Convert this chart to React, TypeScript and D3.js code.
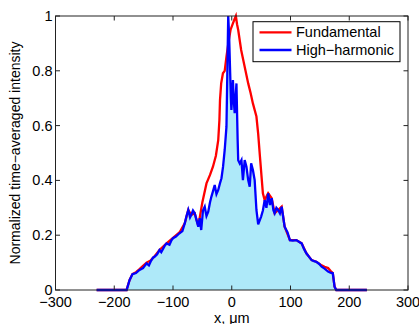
import * as d3 from "d3";
import React from "react";

const W = 419;
const H = 324;
const margin = { top: 16, right: 11, bottom: 34, left: 55.5 };
const plotW = W - margin.left - margin.right;
const plotH = H - margin.top - margin.bottom;

// high-harmonic (blue) profile
const hhX = [
  -230, -179, -174, -169, -163, -157, -151, -145, -141, -138, -134, -131, -127,
  -123, -120, -117, -114, -111, -106, -103, -100, -95, -89, -84, -80, -77, -74,
  -71, -69, -66, -63, -60, -57, -54.5, -52, -49, -46, -43, -40, -37, -34.6, -32,
  -29, -26, -23, -20, -17.5, -14.8, -12, -9, -6, -4.5, -3, -1.5, -0.6, 1, 2,
  3.5, 5, 6.5, 8, 10, 11, 13.6, 16.5, 19, 22, 25, 28, 30.6, 33, 36, 39, 42, 45,
  50, 53, 56, 59, 62, 65, 68, 71, 73, 76, 79, 82, 85, 88, 90, 95, 99, 104, 110,
  115, 119, 123, 127, 132, 136, 140, 144, 149, 153, 158, 164, 168, 172, 175,
  178, 230,
];
const hhY = [
  0, 0, 0.036, 0.058, 0.062, 0.073, 0.08, 0.097, 0.09, 0.104, 0.118, 0.122,
  0.13, 0.146, 0.138, 0.15, 0.162, 0.17, 0.165, 0.18, 0.189, 0.195, 0.207,
  0.215, 0.243, 0.27, 0.292, 0.265, 0.274, 0.29, 0.28, 0.255, 0.231, 0.262,
  0.219, 0.29, 0.304, 0.27, 0.286, 0.32, 0.341, 0.36, 0.383, 0.35, 0.365, 0.39,
  0.408, 0.45, 0.511, 0.596, 1.0, 0.93, 0.815, 0.7, 0.657, 0.72, 0.766, 0.69,
  0.645, 0.7, 0.754, 0.55, 0.474, 0.462, 0.474, 0.401, 0.474, 0.45, 0.401,
  0.377, 0.462, 0.438, 0.401, 0.292, 0.24, 0.268, 0.29, 0.328, 0.3, 0.353, 0.31,
  0.335, 0.29, 0.28, 0.3, 0.292, 0.28, 0.304, 0.26, 0.231, 0.21, 0.182, 0.18,
  0.182, 0.175, 0.17, 0.15, 0.134, 0.12, 0.109, 0.105, 0.103, 0.095, 0.085,
  0.078, 0.067, 0.063, 0.061, 0.012, 0, 0,
];

// fundamental (red) profile
const fundX = [
  -230, -179, -174, -169, -163, -157, -151, -145, -138, -131, -123, -111, -100,
  -89, -80, -74, -69, -63, -57, -54, -50, -43, -37, -32, -27, -23, -21, -20,
  -18, -15, -12, -9, -5, -2, 2, 5, 7, 9, 11, 16, 22, 28, 32, 36, 42, 45, 48,
  53, 56, 62, 68, 73, 79, 85, 90, 99, 110, 119, 127, 136, 144, 153, 158, 164,
  168, 172, 175, 178, 230,
];
const fundY = [
  0, 0, 0.036, 0.058, 0.065, 0.076, 0.088, 0.1, 0.108, 0.124, 0.146, 0.17,
  0.19, 0.21, 0.243, 0.292, 0.274, 0.28, 0.235, 0.27, 0.32, 0.389, 0.42, 0.45,
  0.49, 0.547, 0.62, 0.693, 0.754, 0.791, 0.8, 0.852, 0.912, 0.95, 0.973, 0.99,
  1.0, 0.97, 0.949, 0.876, 0.815, 0.754, 0.72, 0.681, 0.633, 0.57, 0.487,
  0.353, 0.328, 0.353, 0.335, 0.28, 0.292, 0.304, 0.231, 0.182, 0.182, 0.17,
  0.134, 0.109, 0.103, 0.09, 0.085, 0.08, 0.07, 0.062, 0.012, 0, 0,
];

const xTicks = [-300, -200, -100, 0, 100, 200, 300];
const yTicks = [0, 0.2, 0.4, 0.6, 0.8, 1];
const legendLabels = ["Fundamental", "High\u2212harmonic"];
const legendColors = ["#ff0000", "#0000ff"];

const font = "'Liberation Sans', Arial, Helvetica, sans-serif";

export default function App() {
  const x = d3.scaleLinear().domain([-300, 300]).range([0, plotW]);
  const y = d3.scaleLinear().domain([0, 1]).range([plotH, 0]);

  const hh = hhX.map((v, i) => [v, hhY[i]] as [number, number]);
  const fund = fundX.map((v, i) => [v, fundY[i]] as [number, number]);

  const line = d3
    .line<[number, number]>()
    .x((d) => x(d[0]))
    .y((d) => y(d[1]));
  const area = d3
    .area<[number, number]>()
    .x((d) => x(d[0]))
    .y0(y(0))
    .y1((d) => y(d[1]));

  const fmtY = (v: number) => (v === 0 || v === 1 ? String(v) : v.toFixed(1));
  const fmtX = (v: number) => (v < 0 ? "\u2212" + Math.abs(v) : String(v));
  const tick = 4.5;

  return (
    <svg
      width={W}
      height={H}
      style={{ position: "absolute", left: 0, top: 0, background: "#fff" }}
      fontFamily={font}
    >
      <g transform={`translate(${margin.left},${margin.top})`}>
        <path d={area(hh) || ""} fill="#aee9f9" stroke="none" />
        <path d={line(fund) || ""} fill="none" stroke="#ff0000" strokeWidth={2.3} />
        <path d={line(hh) || ""} fill="none" stroke="#0000ff" strokeWidth={2.3} />

        <rect width={plotW} height={plotH} fill="none" stroke="#222" strokeWidth={1} />

        {xTicks.map((t) => (
          <g key={"x" + t}>
            <line x1={x(t)} x2={x(t)} y1={plotH} y2={plotH - tick} stroke="#222" />
            <line x1={x(t)} x2={x(t)} y1={0} y2={tick} stroke="#222" />
            <text
              x={x(t)}
              y={plotH + 17}
              textAnchor="middle"
              fontSize={14.5}
              fill="#000"
            >
              {fmtX(t)}
            </text>
          </g>
        ))}
        {yTicks.map((t) => (
          <g key={"y" + t}>
            <line x1={0} x2={tick} y1={y(t)} y2={y(t)} stroke="#222" />
            <line x1={plotW} x2={plotW - tick} y1={y(t)} y2={y(t)} stroke="#222" />
            <text
              x={-3}
              y={y(t) + 5}
              textAnchor="end"
              fontSize={14.5}
              fill="#000"
            >
              {fmtY(t)}
            </text>
          </g>
        ))}

        <text
          x={plotW / 2}
          y={plotH + 32.5}
          textAnchor="middle"
          fontSize={14.5}
          fill="#000"
        >
          x, μm
        </text>
        <text
          transform={`translate(${-36},${plotH / 2}) rotate(-90)`}
          textAnchor="middle"
          fontSize={14}
          fill="#000"
        >
          Normalized time−averaged intensity
        </text>

        <g transform={`translate(${253 - margin.left},${21.7 - margin.top})`}>
          <rect width={147} height={40} fill="#fff" stroke="#000" strokeWidth={1} />
          {legendLabels.map((l, i) => (
            <g key={l} transform={`translate(0,${10.6 + i * 17.7})`}>
              <line x1={6.5} x2={38.5} y1={0} y2={0} stroke={legendColors[i]} strokeWidth={2.3} />
              <text x={43} y={5} fontSize={14.5} fill="#000">
                {l}
              </text>
            </g>
          ))}
        </g>
      </g>
    </svg>
  );
}
